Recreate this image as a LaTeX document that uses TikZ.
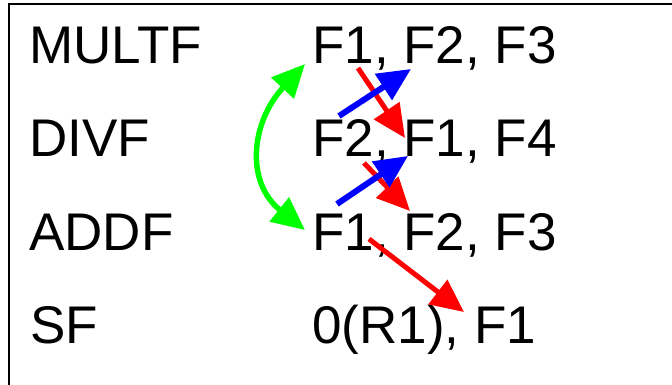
\documentclass[tikz,border=0pt]{standalone}
\usepackage{fontspec}
\setmainfont{Liberation Sans}
\usetikzlibrary{arrows.meta}

\tikzset{
	instr/.style={anchor=base west, inner sep=0pt, font=\fontsize{53}{60}\selectfont},
	head/.style={-{Triangle[length=33pt,width=30pt]}},
}

\begin{document}
\begin{tikzpicture}[x=1pt,y=-1pt]
		\useasboundingbox (0,0) rectangle (672,385);
		\draw[line width=1.5pt] (9,385) -- (9,4) -- (672,4);
		%
		\node (multf)[instr] at (29,63.5) {MULTF};
		\node (divf)[instr] at (29,156.7) {DIVF};
		\node (addf)[instr] at (29,250) {ADDF};
		\node (sf)[instr] at (30,343) {SF};
		%
		\node (multfops)[instr] at (312,63.5) {F1, F2, F3};
		\node (divfops)[instr] at (312,156.7) {F2, F1, F4};
		\node (addfops)[instr] at (312,250) {F1, F2, F3};
		\node (sfops)[instr] at (312,343) {0(R1), F1};
		%
		\draw[green, line width=5.5pt, {Triangle[length=33pt,width=30pt]}-{Triangle[length=33pt,width=30pt]}]
			([shift={(-7,-20)}]addfops.base west) .. controls +(-60,-48) and +(-54,58) .. ([shift={(-7,0.5)}]multfops.base west);
		%
		\draw[red, line width=5pt, head] ([shift={(46,4.5)}]multfops.base west) -- ([shift={(93,-18.7)}]divfops.base west);
		\draw[red, line width=5pt, head] ([shift={(52,6.3)}]divfops.base west) -- ([shift={(98,-39)}]addfops.base west);
		\draw[red, line width=5pt, head] ([shift={(57,-11)}]addfops.base west) -- ([shift={(152,-31)}]sfops.base west);
		%
		\draw[blue, line width=6pt, head] ([shift={(27,-40.7)}]divfops.base west) -- ([shift={(99,5.5)}]multfops.base west);
		\draw[blue, line width=6pt, head] ([shift={(25,-46)}]addfops.base west) -- ([shift={(96,-0.7)}]divfops.base west);
	\end{tikzpicture}
\end{document}
